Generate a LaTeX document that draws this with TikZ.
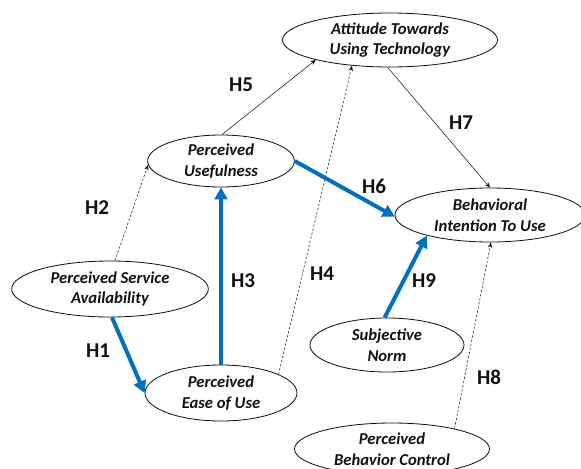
\documentclass[tikz,border=0pt]{standalone}
\usepackage{fontspec}
\setmainfont{Carlito}
\usetikzlibrary{arrows.meta,shapes.geometric}
\definecolor{tamBlue}{HTML}{0070C0}
\definecolor{tamInk}{HTML}{111111}

\begin{document}
\begin{tikzpicture}[x=0.03cm, y=-0.03cm,
  construct/.style={ellipse, draw=tamInk, line width=0.7pt, inner sep=0pt, align=center,
    font=\fontsize{14.2}{17.6}\selectfont\bfseries\itshape, text=tamInk},
  hyp/.style={font=\fontsize{18}{18}\selectfont\bfseries, text=tamInk},
  weak/.style={-{Stealth[length=1.6mm,width=1.3mm]}, tamInk, line width=0.45pt},
  weakdash/.style={weak, dash pattern=on 2pt off 1.6pt},
  strong/.style={-{Triangle[length=3.6mm,width=3.8mm]}, tamBlue, line width=3.4pt},
]
\useasboundingbox (0,0) rectangle (581,468);
% ---- constructs ----
\node[construct, minimum width=6.45cm, minimum height=1.62cm] (att)  at (390,40)  {Attitude Towards\\Using Technology};
\node[construct, minimum width=4.4cm,  minimum height=1.56cm] (pu)   at (221,161) {Perceived\\Usefulness};
\node[construct, minimum width=5.7cm,  minimum height=1.62cm] (bi)   at (490,215) {Behavioral\\Intention To Use};
\node[construct, minimum width=5.9cm,  minimum height=1.68cm] (psa)  at (110,289) {Perceived Service\\Availability};
\node[construct, minimum width=4.56cm, minimum height=1.68cm] (peou) at (221,393) {Perceived\\Ease of Use};
\node[construct, minimum width=4.62cm, minimum height=1.62cm] (sn)   at (387,345) {Subjective\\Norm};
\node[construct, minimum width=5.85cm, minimum height=1.56cm] (pbc)  at (392,449) {Perceived\\Behavior Control};
% ---- paths ----
\draw[strong]   (psa.-86)  -- (peou.180);
\draw[weakdash] (psa.80)   -- (pu.183);
\draw[strong]   (peou.north) -- (pu.south);
\draw[weakdash] (peou.18)  -- (att.214);
\draw[weak]     (pu.88)    -- (att.195);
\draw[strong]   (pu.east)  -- (bi.181);
\draw[weak]     (att.265)  -- (bi.north);
\draw[weakdash] (pbc.18)   -- (bi.-88);
\draw[strong]   (sn.95)    -- (bi.198);
% ---- hypothesis labels ----
\node[hyp] (h1) at (98,351)  {H1};
\node[hyp] (h2) at (97,208)  {H2};
\node[hyp] (h3) at (243,281) {H3};
\node[hyp] (h4) at (322,274) {H4};
\node[hyp] (h5) at (241,85)  {H5};
\node[hyp] (h6) at (374,186) {H6};
\node[hyp] (h7) at (461,123) {H7};
\node[hyp] (h8) at (489,377) {H8};
\node[hyp] (h9) at (424,281) {H9};
\end{tikzpicture}
\end{document}
